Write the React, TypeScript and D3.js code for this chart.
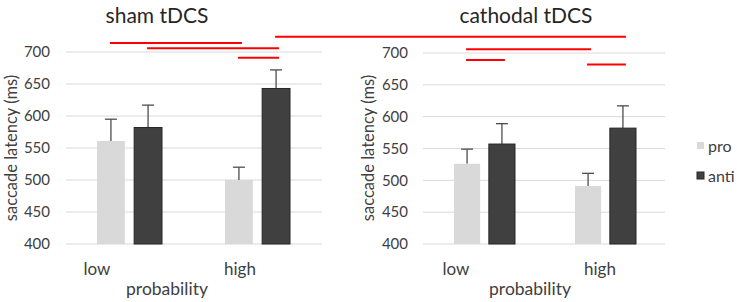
import React from "react";
import * as d3 from "d3";

const categories = ["low", "high"];
const series = ["pro", "anti"];
const yTicks = [400, 450, 500, 550, 600, 650, 700];

// sham tDCS
const shamPro = [561, 500];
const shamAnti = [582, 643];
const shamProErr = [595, 520];
const shamAntiErr = [617, 672];

// cathodal tDCS
const cathPro = [526, 491];
const cathAnti = [557, 582];
const cathProErr = [549, 511];
const cathAntiErr = [589, 617];

const panelTitles = ["sham tDCS", "cathodal tDCS"];

// significance lines: [panel, category, series] -> [panel, category, series] at level
const sigLines = [
  { p1: 0, c1: "low", s1: "pro", p2: 0, c2: "high", s2: "pro", level: 714 },
  { p1: 0, c1: "low", s1: "anti", p2: 0, c2: "high", s2: "anti", level: 706 },
  { p1: 0, c1: "high", s1: "pro", p2: 0, c2: "high", s2: "anti", level: 691 },
  { p1: 0, c1: "high", s1: "anti", p2: 1, c2: "high", s2: "anti", level: 724 },
  { p1: 1, c1: "low", s1: "pro", p2: 1, c2: "high", s2: "pro", level: 706 },
  { p1: 1, c1: "low", s1: "pro", p2: 1, c2: "low", s2: "anti", level: 689 },
  { p1: 1, c1: "high", s1: "pro", p2: 1, c2: "high", s2: "anti", level: 682 },
];

const FONT = "Lato, 'Open Sans', sans-serif";
const colors: Record<string, string> = { pro: "#d9d9d9", anti: "#404040" };

const panels = [
  {
    title: panelTitles[0],
    values: { pro: shamPro, anti: shamAnti },
    errs: { pro: shamProErr, anti: shamAntiErr },
    gx: [66, 322],
    inner: [31, 96],
    yRange: [244, 52],
    tickX: 50,
    yTitleX: 11,
    titleX: 157,
    catLabelX: [97, 240],
    probX: 167,
  },
  {
    title: panelTitles[1],
    values: { pro: cathPro, anti: cathAnti },
    errs: { pro: cathProErr, anti: cathAntiErr },
    gx: [423, 665],
    inner: [31, 92],
    yRange: [244, 53],
    tickX: 408,
    yTitleX: 368,
    titleX: 526,
    catLabelX: [456, 600],
    probX: 530,
  },
];

function makeScales(p: any) {
  const x0 = d3.scaleBand<string>().domain(categories).range(p.gx as [number, number]).padding(0);
  const x1 = d3.scaleBand<string>().domain(series).range(p.inner as [number, number]).paddingInner(0.25);
  const y = d3.scaleLinear().domain([400, 700]).range(p.yRange as [number, number]);
  return { x0, x1, y };
}

export default function App() {
  const scales = panels.map(makeScales);
  const centerX = (pi: number, c: string, s: string) => {
    const { x0, x1 } = scales[pi];
    return (x0(c) as number) + (x1(s) as number) + x1.bandwidth() / 2;
  };

  return (
    <div style={{ position: "absolute", left: 0, top: 0 }}>
      <svg width={737} height={302} style={{ display: "block", background: "#fff" }} fontFamily={FONT}>
        {panels.map((p, pi) => {
          const { x0, x1, y } = scales[pi];
          return (
            <g key={pi}>
              {yTicks.map((t) => (
                <g key={t}>
                  <line x1={p.gx[0]} x2={p.gx[1]} y1={y(t)} y2={y(t)} stroke="#d9d9d9" strokeWidth={1} />
                  <text x={p.tickX} y={y(t)} dy="0.35em" textAnchor="end" fontSize={15} fill="#404040">
                    {t}
                  </text>
                </g>
              ))}
              {categories.map((c, ci) =>
                series.map((s) => {
                  const v = (p.values as any)[s][ci];
                  const e = (p.errs as any)[s][ci];
                  const bx = (x0(c) as number) + (x1(s) as number);
                  const cx = bx + x1.bandwidth() / 2;
                  return (
                    <g key={c + s}>
                      <line x1={cx} x2={cx} y1={y(v)} y2={y(e)} stroke="#4d4d4d" strokeWidth={1.3} />
                      <line x1={cx - 6} x2={cx + 6} y1={y(e)} y2={y(e)} stroke="#4d4d4d" strokeWidth={1.3} />
                      <rect
                        x={bx}
                        y={y(v)}
                        width={x1.bandwidth()}
                        height={y(400) - y(v)}
                        fill={colors[s]}
                        stroke={s === "anti" ? "#262626" : "none"}
                        strokeWidth={1}
                      />
                    </g>
                  );
                })
              )}
              <text x={p.titleX} y={23} textAnchor="middle" fontSize={21} fill="#262626">
                {p.title}
              </text>
              {categories.map((c, ci) => (
                <text key={c} x={p.catLabelX[ci]} y={275} textAnchor="middle" fontSize={17} fill="#404040">
                  {c}
                </text>
              ))}
              <text x={p.probX} y={295} textAnchor="middle" fontSize={17.5} fill="#404040">
                probability
              </text>
              <text
                transform={`translate(${p.yTitleX},148) rotate(-90)`}
                dy="0.35em"
                textAnchor="middle"
                fontSize={16.5}
                fill="#404040"
              >
                saccade latency (ms)
              </text>
            </g>
          );
        })}
        {sigLines.map((l, i) => {
          const yy = scales[l.p1].y(l.level);
          return (
            <line
              key={i}
              x1={centerX(l.p1, l.c1, l.s1) - 1}
              x2={centerX(l.p2, l.c2, l.s2) + 3}
              y1={yy}
              y2={yy}
              stroke="#ff0000"
              strokeWidth={2}
            />
          );
        })}
        {series.map((s, i) => (
          <g key={s} transform={`translate(697,${142 + i * 30})`}>
            <rect x={0} y={0} width={7} height={7} fill={colors[s]} stroke={s === "anti" ? "#262626" : "none"} />
            <text x={11} y={4} dy="0.35em" fontSize={16} fill="#404040">
              {s}
            </text>
          </g>
        ))}
      </svg>
    </div>
  );
}
